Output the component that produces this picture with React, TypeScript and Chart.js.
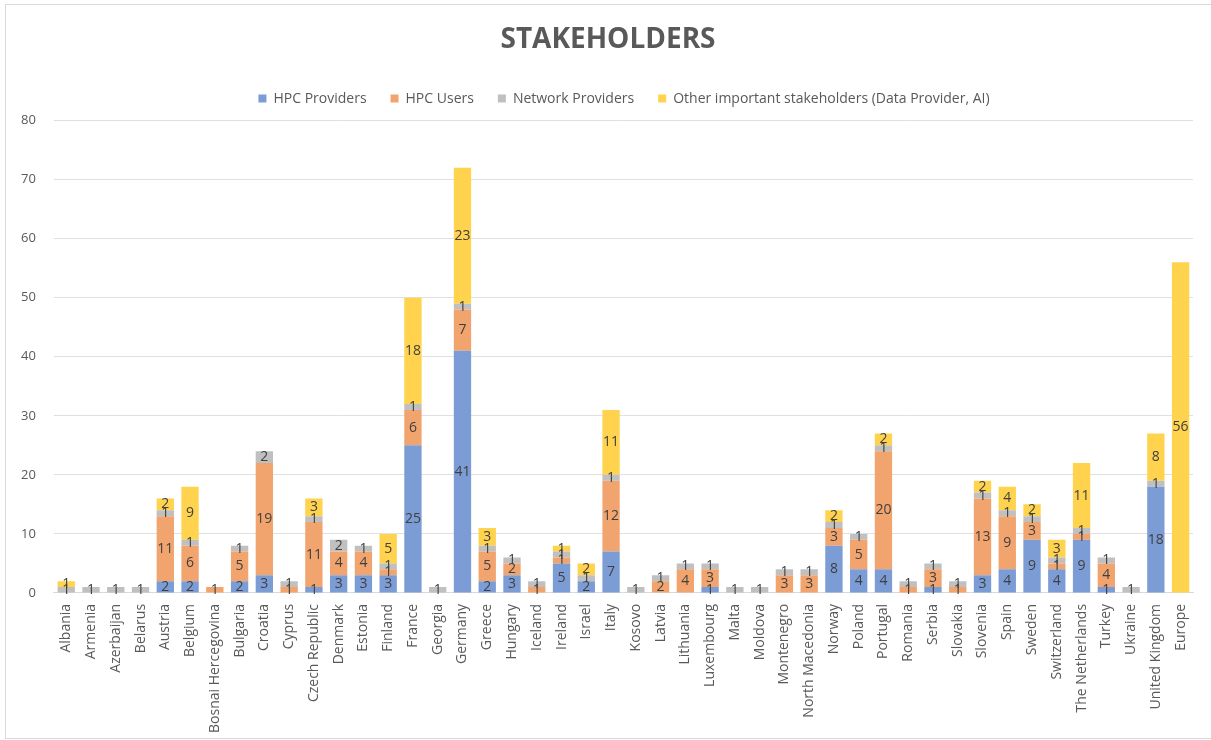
import React, { useEffect, useRef } from "react";
import { Chart, registerables } from "chart.js";

Chart.register(...registerables);

const categories = [
  "Albania", "Armenia", "Azerbaijan", "Belarus", "Austria", "Belgium", "Bosnai Hercegovina",
  "Bulgaria", "Croatia", "Cyprus", "Czech Republic", "Denmark", "Estonia", "Finland", "France",
  "Georgia", "Germany", "Greece", "Hungary", "Iceland", "Ireland", "Israel", "Italy", "Kosovo",
  "Latvia", "Lithuania", "Luxembourg", "Malta", "Moldova", "Montenegro", "North Macedonia",
  "Norway", "Poland", "Portugal", "Romania", "Serbia", "Slovakia", "Slovenia", "Spain", "Sweden",
  "Switzerland", "The Netherlands", "Turkey", "Ukraine", "United Kingdom", "Europe",
];

const hpcProviders = [
  0, 0, 0, 0, 2, 2, 0, 2, 3, 0, 1, 3, 3, 3, 25, 0, 41, 2, 3, 0, 5, 2, 7, 0,
  0, 0, 1, 0, 0, 0, 0, 8, 4, 4, 0, 1, 0, 3, 4, 9, 4, 9, 1, 0, 18, 0,
];
const hpcUsers = [
  0, 0, 0, 0, 11, 6, 1, 5, 19, 1, 11, 4, 4, 1, 6, 0, 7, 5, 2, 1, 1, 0, 12, 0,
  2, 4, 3, 0, 0, 3, 3, 3, 5, 20, 1, 3, 1, 13, 9, 3, 1, 1, 4, 0, 0, 0,
];
const networkProviders = [
  1, 1, 1, 1, 1, 1, 0, 1, 2, 1, 1, 2, 1, 1, 1, 1, 1, 1, 1, 1, 1, 1, 1, 1,
  1, 1, 1, 1, 1, 1, 1, 1, 1, 1, 1, 1, 1, 1, 1, 1, 1, 1, 1, 1, 1, 0,
];
const otherStakeholders = [
  1, 0, 0, 0, 2, 9, 0, 0, 0, 0, 3, 0, 0, 5, 18, 0, 23, 3, 0, 0, 1, 2, 11, 0,
  0, 0, 0, 0, 0, 0, 0, 2, 0, 2, 0, 0, 0, 2, 4, 2, 3, 11, 0, 0, 8, 56,
];

const yTicks = [0, 10, 20, 30, 40, 50, 60, 70, 80];

const seriesNames = [
  "HPC Providers",
  "HPC Users",
  "Network Providers",
  "Other important stakeholders (Data Provider, AI)",
];
const seriesColors = ["#7C9CD6", "#F2A46F", "#C0C0C0", "#FFD34D"];

const FONT = "'Open Sans', 'Noto Sans', sans-serif";

const dataLabels = {
  id: "dataLabels",
  afterDatasetsDraw(chart: any) {
    const ctx = chart.ctx;
    ctx.save();
    ctx.font = `14px ${FONT}`;
    ctx.fillStyle = "#404040";
    ctx.textAlign = "center";
    ctx.textBaseline = "middle";
    chart.data.datasets.forEach((ds: any, di: number) => {
      const meta = chart.getDatasetMeta(di);
      meta.data.forEach((el: any, i: number) => {
        const v = ds.data[i];
        if (!v) return;
        const y = (el.y + el.base) / 2;
        ctx.fillText(String(v), el.x, y);
      });
    });
    ctx.restore();
  },
};

const shiftHeader = {
  id: "shiftHeader",
  afterLayout(chart: any) {
    if (chart.titleBlock) {
      chart.titleBlock.left += 10;
      chart.titleBlock.right += 10;
    }
    if (chart.legend) {
      chart.legend.left += 26;
      chart.legend.right += 26;
    }
  },
};

export default function App() {
  const ref = useRef<HTMLCanvasElement | null>(null);

  useEffect(() => {
    if (!ref.current) return;
    const data = [hpcProviders, hpcUsers, networkProviders, otherStakeholders];
    const chart = new Chart(ref.current, {
      type: "bar",
      data: {
        labels: categories,
        datasets: seriesNames.map((name, i) => ({
          label: name,
          data: data[i],
          backgroundColor: seriesColors[i],
          borderWidth: 0,
          categoryPercentage: 0.7,
          barPercentage: 1.0,
        })),
      },
      options: {
        animation: false,
        responsive: false,
        maintainAspectRatio: false,
        layout: { padding: { left: 3, right: 18, top: 14, bottom: 4 } },
        plugins: {
          title: {
            display: true,
            text: "STAKEHOLDERS",
            color: "#595959",
            font: { family: FONT, size: 28, weight: "bold" },
            padding: { top: 9, bottom: 11 },
          },
          legend: {
            position: "top",
            labels: {
              boxWidth: 8,
              boxHeight: 8,
              color: "#595959",
              font: { family: FONT, size: 14 },
              padding: 24,
            },
          },
          tooltip: { enabled: false },
        },
        scales: {
          x: {
            stacked: true,
            grid: { display: false },
            border: { color: "#d9d9d9" },
            ticks: {
              color: "#595959",
              font: { family: FONT, size: 14 },
              maxRotation: 90,
              minRotation: 90,
              autoSkip: false,
            },
          },
          xTopSpacer: {
            type: "category",
            position: "top",
            display: true,
            grid: { display: false, drawTicks: false },
            border: { display: false },
            ticks: { display: false },
            afterFit: (axis: any) => {
              axis.height = 5;
            },
          },
          y: {
            stacked: true,
            min: 0,
            max: 80,
            afterBuildTicks: (axis: any) => {
              axis.ticks = yTicks.map((v) => ({ value: v }));
            },
            grid: { color: "#e0e0e0", drawTicks: false },
            border: { display: false },
            ticks: {
              color: "#595959",
              font: { family: FONT, size: 13 },
              padding: 18,
            },
          },
        },
      },
      plugins: [dataLabels, shiftHeader],
    });
    return () => chart.destroy();
  }, []);

  return (
    <div style={{ position: "absolute", left: 0, top: 0, width: 1211, height: 740, overflow: "hidden", background: "#fff" }}>
      <div
        style={{
          position: "absolute",
          left: 5,
          top: 4,
          width: 1230,
          height: 733,
          border: "1px solid #d9d9d9",
        }}
      />
      <canvas ref={ref} width={1211} height={740} style={{ position: "absolute", left: 0, top: 0 }} />
    </div>
  );
}
